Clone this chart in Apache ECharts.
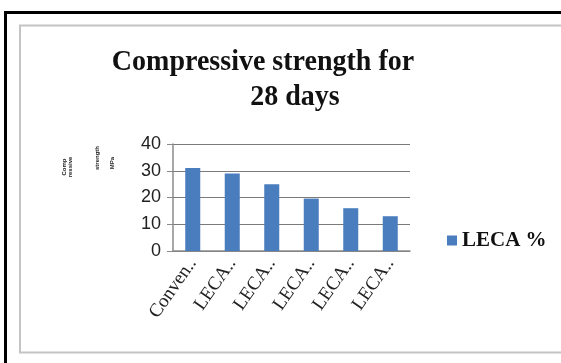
<!DOCTYPE html>
<html>
<head>
<meta charset="utf-8">
<style>
  html, body { margin: 0; padding: 0; background: #ffffff; }
  #chart { width: 561px; height: 363px; }
</style>
<script src="https://cdn.jsdelivr.net/npm/echarts@6/dist/echarts.min.js"></script>
</head>
<body>
<div id="chart"></div>
<script>
// Mix labels along the x axis
var categories = ['Conven..', 'LECA..', 'LECA..', 'LECA..', 'LECA..', 'LECA..'];
// 28-day compressive strength (MPa)
var strength28 = [31, 29, 25, 19.6, 16, 13];
// Value axis ticks
var yTicks = [0, 10, 20, 30, 40];
var seriesName = 'LECA %';
var titleLines = ['Compressive strength for', '28 days'];
var yNameLines = ['Comp', 'ressive', 'strength', 'MPa'];

var chart = echarts.init(document.getElementById('chart'), null, { renderer: 'canvas' });

var serif = '"Liberation Serif", "DejaVu Serif", serif';
var sans = '"Liberation Sans", Arial, sans-serif';

var option = {
  animation: false,
  backgroundColor: '#ffffff',
  grid: { left: 173, right: 151, top: 144, bottom: 112, containLabel: false },
  legend: {
    data: [seriesName],
    left: 442,
    top: 225,
    icon: 'rect',
    itemWidth: 10,
    itemHeight: 10,
    textStyle: { fontFamily: serif, fontSize: 21, fontWeight: 'bold', color: '#111' }
  },
  xAxis: {
    type: 'category',
    data: categories,
    axisLine: { show: true, lineStyle: { color: '#8a8a8a', width: 1.5 } },
    axisTick: { show: false },
    axisLabel: {
      rotate: 55,
      interval: 0,
      margin: 9,
      fontFamily: serif,
      fontSize: 19,
      color: '#222'
    }
  },
  yAxis: {
    type: 'value',
    min: yTicks[0],
    max: yTicks[yTicks.length - 1],
    interval: yTicks[1] - yTicks[0],
    axisLine: { show: true, lineStyle: { color: '#8a8a8a', width: 1.5 } },
    axisTick: { show: true, inside: false, length: 6, lineStyle: { color: '#8a8a8a' } },
    splitLine: { show: true, lineStyle: { color: '#7a7a7a', width: 1.2 } },
    axisLabel: { margin: 12, fontFamily: sans, fontSize: 18, color: '#222' }
  },
  series: [{
    name: seriesName,
    type: 'bar',
    data: strength28,
    barWidth: '38%',
    itemStyle: { color: '#4a7dbd' }
  }],
  graphic: [
    // outer black frame
    { type: 'rect', silent: true, z: 100,
      shape: { x: 5.5, y: 12.5, width: 640, height: 440 },
      style: { fill: 'none', stroke: '#000', lineWidth: 3 } },
    // inner chart-area frame
    { type: 'rect', silent: true, z: 100,
      shape: { x: 20, y: 25.5, width: 560, height: 327 },
      style: { fill: 'none', stroke: '#c4c4c4', lineWidth: 2 } },
    // two-line title
    { type: 'text', x: 263, y: 62, scaleY: 1.08, z: 100,
      style: { text: titleLines[0], font: 'bold 28px ' + serif, fill: '#111',
               textAlign: 'center', textVerticalAlign: 'middle' } },
    { type: 'text', x: 295, y: 97, scaleY: 1.08, z: 100,
      style: { text: titleLines[1], font: 'bold 28px ' + serif, fill: '#111',
               textAlign: 'center', textVerticalAlign: 'middle' } },
    // small rotated value-axis title
    { type: 'text', x: 64, y: 167, rotation: Math.PI / 2, z: 100,
      style: { text: yNameLines[0], font: 'bold 6px ' + sans, fill: '#222',
               textAlign: 'center', textVerticalAlign: 'middle' } },
    { type: 'text', x: 70, y: 167, rotation: Math.PI / 2, z: 100,
      style: { text: yNameLines[1], font: 'bold 6px ' + sans, fill: '#222',
               textAlign: 'center', textVerticalAlign: 'middle' } },
    { type: 'text', x: 97, y: 158, rotation: Math.PI / 2, z: 100,
      style: { text: yNameLines[2], font: 'bold 6px ' + sans, fill: '#222',
               textAlign: 'center', textVerticalAlign: 'middle' } },
    { type: 'text', x: 112, y: 163, rotation: Math.PI / 2, z: 100,
      style: { text: yNameLines[3], font: 'bold 6px ' + sans, fill: '#222',
               textAlign: 'center', textVerticalAlign: 'middle' } }
  ]
};

chart.setOption(option);
</script>
</body>
</html>
